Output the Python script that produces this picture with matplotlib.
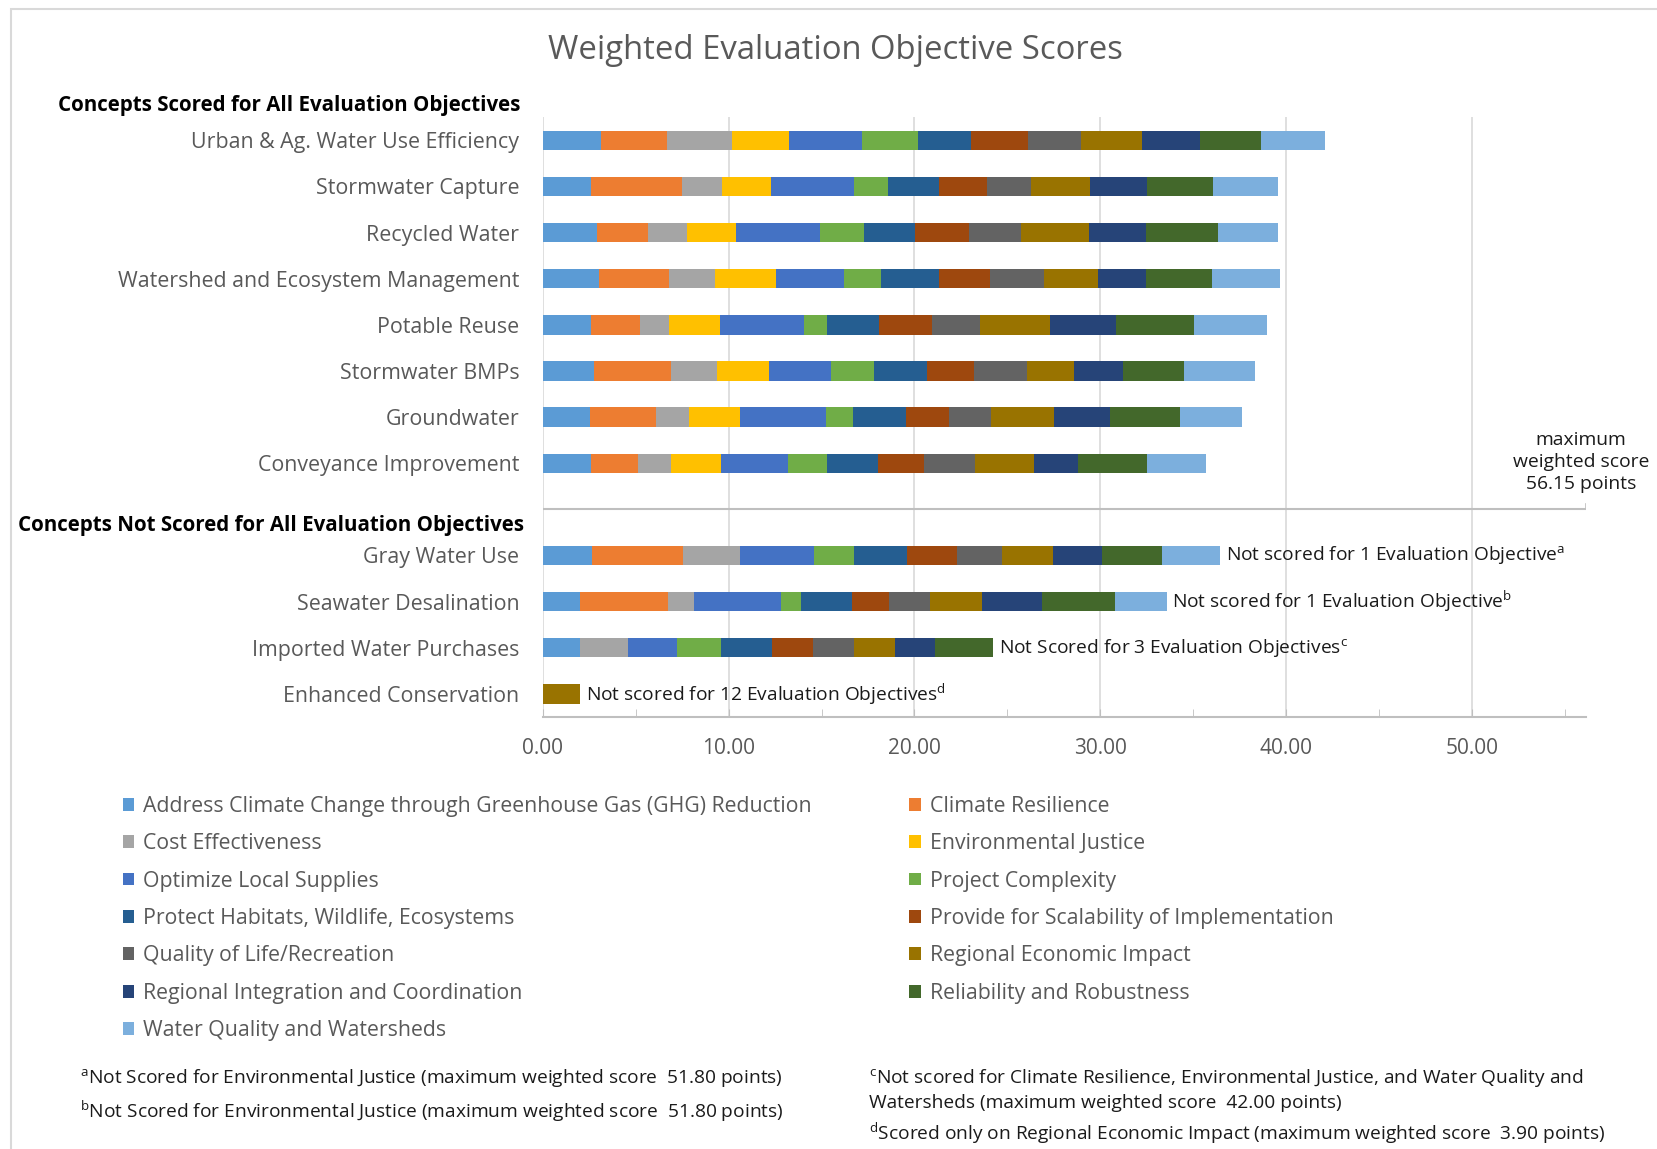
import matplotlib
matplotlib.use("Agg")
import matplotlib.pyplot as plt
import numpy as np
from matplotlib.patches import Rectangle

plt.rcParams["font.family"] = ["Open Sans", "DejaVu Sans"]
plt.rcParams["mathtext.fontset"] = "custom"
plt.rcParams["mathtext.rm"] = "Open Sans"
plt.rcParams["mathtext.it"] = "Open Sans:italic"
plt.rcParams["mathtext.bf"] = "Open Sans:bold"

MAX_SCORE = 56.15

objectives = [
    "Address Climate Change through Greenhouse Gas (GHG) Reduction",
    "Climate Resilience",
    "Cost Effectiveness",
    "Environmental Justice",
    "Optimize Local Supplies",
    "Project Complexity",
    "Protect Habitats, Wildlife, Ecosystems",
    "Provide for Scalability of Implementation",
    "Quality of Life/Recreation",
    "Regional Economic Impact",
    "Regional Integration and Coordination",
    "Reliability and Robustness",
    "Water Quality and Watersheds",
]
colors = [
    "#5B9BD5", "#ED7D31", "#A5A5A5", "#FFC000", "#4472C4", "#70AD47", "#255E91",
    "#9E480E", "#636363", "#997300", "#264478", "#43682B", "#7CAFDD",
]

# concepts scored for every objective
scored_concepts = [
    "Urban & Ag. Water Use Efficiency",
    "Stormwater Capture",
    "Recycled Water",
    "Watershed and Ecosystem Management",
    "Potable Reuse",
    "Stormwater BMPs",
    "Groundwater",
    "Conveyance Improvement",
]
# concepts missing some objectives (0 = not scored)
partial_concepts = [
    "Gray Water Use",
    "Seawater Desalination",
    "Imported Water Purchases",
    "Enhanced Conservation",
]
partial_notes = [
    r"Not scored for 1 Evaluation Objective$^{\mathrm{a}}$",
    r"Not scored for 1 Evaluation Objective$^{\mathrm{b}}$",
    r"Not Scored for 3 Evaluation Objectives$^{\mathrm{c}}$",
    r"Not scored for 12 Evaluation Objectives$^{\mathrm{d}}$",
]

urban_ag = [3.10, 3.59, 3.46, 3.07, 3.98, 2.99, 2.86, 3.07, 2.85, 3.27, 3.15, 3.27, 3.45]
stormwater_capture = [2.61, 4.85, 2.20, 2.60, 4.50, 1.84, 2.72, 2.60, 2.36, 3.16, 3.10, 3.56, 3.46]
recycled_water = [2.91, 2.74, 2.09, 2.66, 4.52, 2.36, 2.75, 2.88, 2.80, 3.70, 3.05, 3.86, 3.24]
watershed = [3.02, 3.78, 2.47, 3.30, 3.64, 2.01, 3.12, 2.75, 2.90, 2.89, 2.58, 3.54, 3.67]
potable_reuse = [2.61, 2.60, 1.59, 2.75, 4.50, 1.26, 2.80, 2.85, 2.55, 3.79, 3.56, 4.17, 3.93]
stormwater_bmps = [2.74, 4.17, 2.45, 2.82, 3.32, 2.33, 2.83, 2.55, 2.85, 2.53, 2.66, 3.26, 3.82]
groundwater = [2.55, 3.51, 1.79, 2.77, 4.61, 1.45, 2.85, 2.34, 2.25, 3.38, 3.01, 3.78, 3.32]
conveyance = [2.61, 2.52, 1.78, 2.69, 3.60, 2.08, 2.77, 2.47, 2.74, 3.16, 2.41, 3.68, 3.21]
gray_water = [2.66, 4.86, 3.07, 0, 4.01, 2.17, 2.83, 2.71, 2.39, 2.74, 2.64, 3.26, 3.13]
seawater = [1.98, 4.77, 1.40, 0, 4.69, 1.04, 2.77, 1.98, 2.19, 2.80, 3.24, 3.95, 2.77]
imported = [1.98, 0, 2.57, 0, 2.69, 2.36, 2.72, 2.22, 2.22, 2.17, 2.19, 3.13, 0]
enhanced = [0, 0, 0, 0, 0, 0, 0, 0, 0, 2.00, 0, 0, 0]

scores = np.array([
    urban_ag, stormwater_capture, recycled_water, watershed, potable_reuse,
    stormwater_bmps, groundwater, conveyance,
    gray_water, seawater, imported, enhanced,
])

concepts = scored_concepts + partial_concepts
# one empty slot between the two groups
ypos = list(range(len(scored_concepts))) + \
    [len(scored_concepts) + 1 + i for i in range(len(partial_concepts))]
sep_y = len(scored_concepts)

fig = plt.figure(figsize=(16.58, 11.49), dpi=100)
ax = fig.add_axes([0.3275, 0.376, 0.629, 0.522])

left = np.zeros(len(concepts))
for j, (name, col) in enumerate(zip(objectives, colors)):
    w = scores[:, j]
    ax.barh(ypos, w, left=left, height=0.42, color=col, label=name, linewidth=0)
    left += w

totals = scores.sum(axis=1)
for k, note in enumerate(partial_notes):
    i = len(scored_concepts) + k
    ax.annotate(note, xy=(totals[i], ypos[i]), xytext=(4, 0), textcoords="offset points",
                ha="left", va="center", fontsize=13.8, color="#1a1a1a")

ax.set_xlim(0, MAX_SCORE)
ax.set_ylim(len(concepts) + 0.5, -0.5)
ax.set_yticks(ypos)
ax.set_yticklabels(concepts)
ax.set_xticks(np.arange(0, 51, 10))
ax.set_xticks(np.arange(5, 56, 10), minor=True)
ax.xaxis.set_major_formatter(matplotlib.ticker.FormatStrFormatter("%.2f"))
ax.tick_params(axis="y", length=0, pad=17, labelsize=15.4, labelcolor="#595959")
ax.tick_params(axis="x", which="both", direction="in", length=6, color="#BFBFBF",
               pad=15, labelsize=15, labelcolor="#595959")
ax.grid(axis="x", which="major", color="#D9D9D9", linewidth=1.2)
ax.set_axisbelow(True)
for s in ["top", "right", "left"]:
    ax.spines[s].set_visible(False)
ax.spines["bottom"].set_color("#BFBFBF")
ax.spines["bottom"].set_linewidth(1.5)

# separator between the two groups, ending at the maximum score
ax.plot([0, MAX_SCORE], [sep_y, sep_y], color="#BFBFBF", linewidth=1.5, zorder=1)
ax.plot([MAX_SCORE, MAX_SCORE], [sep_y, sep_y - 0.12], color="#BFBFBF", linewidth=1.2)
fig.text(0.9534, 0.598, "maximum\nweighted score\n%.2f points" % MAX_SCORE, ha="center",
         va="center", fontsize=13.9, color="#1a1a1a", linespacing=1.3)

fig.text(0.504, 0.956, "Weighted Evaluation Objective Scores", ha="center", va="center",
         fontsize=23.7, color="#595959")
fig.text(0.035, 0.908, "Concepts Scored for All Evaluation Objectives", ha="left",
         va="center", fontsize=14.8, fontweight="bold", color="black")
fig.text(0.011, 0.543, "Concepts Not Scored for All Evaluation Objectives", ha="left",
         va="center", fontsize=14.8, fontweight="bold", color="black")

handles, labels = ax.get_legend_handles_labels()
order = list(range(0, len(handles), 2)) + list(range(1, len(handles), 2))
fig.legend([handles[i] for i in order], [labels[i] for i in order], ncol=2,
           loc="upper left", bbox_to_anchor=(0.0625, 0.324), frameon=False,
           fontsize=15.3, labelcolor="#595959", handlelength=0.55, handleheight=0.55,
           handletextpad=0.4, labelspacing=0.77, columnspacing=4.6)

foot_kw = dict(ha="left", va="center", fontsize=13.8, color="#1a1a1a")
fig.text(0.048, 0.0616, r"$^{\mathrm{a}}$Not Scored for Environmental Justice (maximum weighted score  51.80 points)", **foot_kw)
fig.text(0.048, 0.033, r"$^{\mathrm{b}}$Not Scored for Environmental Justice (maximum weighted score  51.80 points)", **foot_kw)
fig.text(0.524, 0.0616, r"$^{\mathrm{c}}$Not scored for Climate Resilience, Environmental Justice, and Water Quality and", **foot_kw)
fig.text(0.524, 0.0396, "Watersheds (maximum weighted score  42.00 points)", **foot_kw)
fig.text(0.524, 0.0138, r"$^{\mathrm{d}}$Scored only on Regional Economic Impact (maximum weighted score  3.90 points)", **foot_kw)

# light frame around the chart area
fig.patches.append(Rectangle((0.0065, -0.5), 2.0, 1.4925, transform=fig.transFigure,
                             fill=False, edgecolor="#D9D9D9", linewidth=1.5))

fig.savefig("out.png", dpi=100)
